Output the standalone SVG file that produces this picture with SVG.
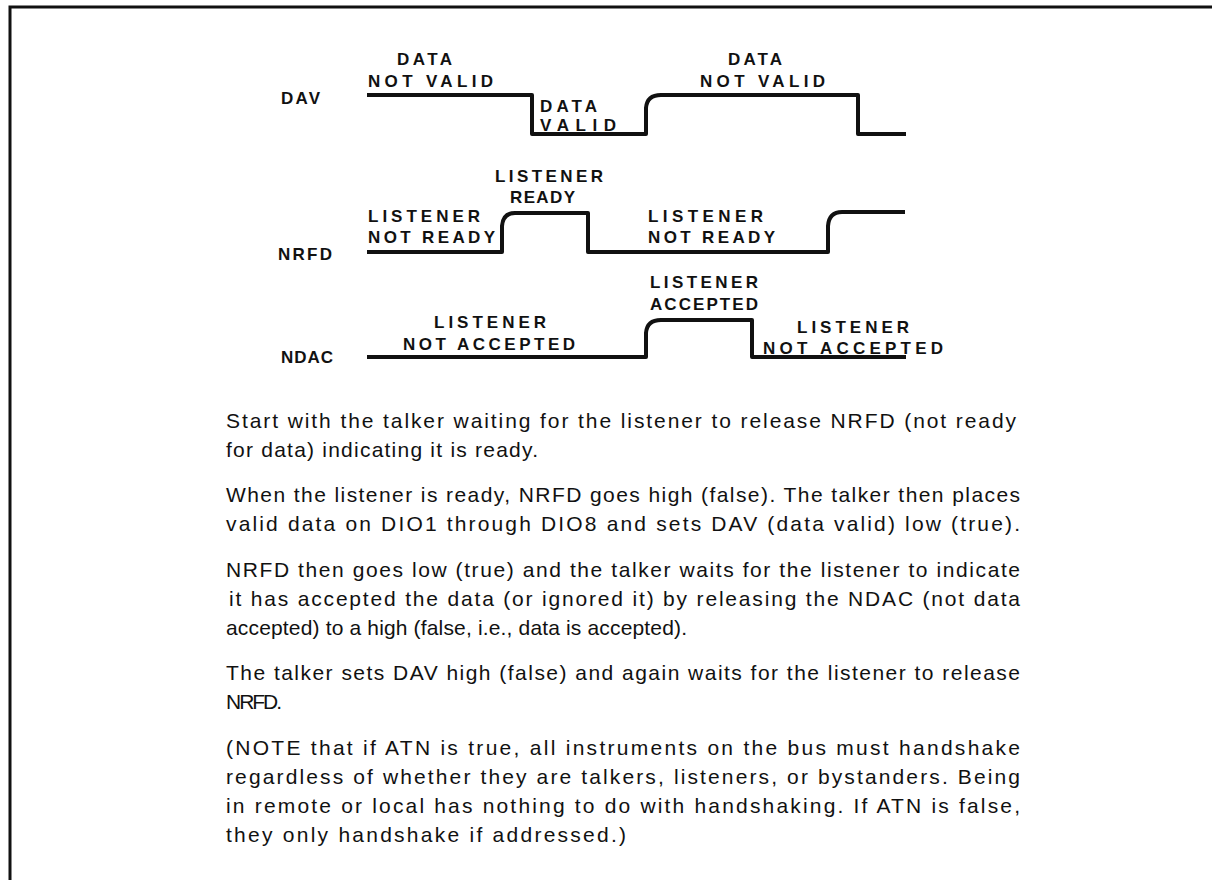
<svg xmlns="http://www.w3.org/2000/svg" width="1212" height="880" viewBox="0 0 1212 880">
<style>
.lbl{font-family:"Liberation Sans",Arial,sans-serif;font-weight:bold;font-size:17px;fill:#111}
.body{font-family:"Liberation Sans",Arial,sans-serif;font-size:21px;fill:#111}
.wave{fill:none;stroke:#111;stroke-width:4;stroke-linejoin:round;stroke-linecap:butt}
</style>
<rect width="1212" height="880" fill="#fff"/>
<g id="border">
<path d="M10,880 V7 H1212" fill="none" stroke="#111" stroke-width="3"/>
</g>
<g id="signal-labels">
<text class="lbl" x="281" y="104" textLength="39" lengthAdjust="spacing">DAV</text>
<text class="lbl" x="278" y="260" textLength="54" lengthAdjust="spacing">NRFD</text>
<text class="lbl" x="281" y="363" textLength="52" lengthAdjust="spacing">NDAC</text>
</g>
<g id="connectors">
<path class="wave" d="M367,95 H532 V134 H646 V108 Q647,95 661,95 H858 V134 H906"/>
<path class="wave" d="M367,252 H502 V226 Q503,213 515,213 H588 V252 H828 V226 Q829,212 842,212 H905"/>
<path class="wave" d="M367,357 H646 V333 Q647,320 661,320 H752 V357 H906"/>
</g>
<g id="dav-labels">
<text class="lbl" x="397" y="65" textLength="55" lengthAdjust="spacing">DATA</text>
<text class="lbl" x="368" y="87" textLength="125" lengthAdjust="spacing">NOT VALID</text>
<text class="lbl" x="540" y="112" textLength="57" lengthAdjust="spacing">DATA</text>
<text class="lbl" x="540" y="131" textLength="76" lengthAdjust="spacing">VALID</text>
<text class="lbl" x="728" y="65" textLength="54" lengthAdjust="spacing">DATA</text>
<text class="lbl" x="700" y="87" textLength="125" lengthAdjust="spacing">NOT VALID</text>
</g>
<g id="nrfd-labels">
<text class="lbl" x="495" y="182" textLength="108" lengthAdjust="spacing">LISTENER</text>
<text class="lbl" x="510" y="203" textLength="65" lengthAdjust="spacing">READY</text>
<text class="lbl" x="368" y="222" textLength="112" lengthAdjust="spacing">LISTENER</text>
<text class="lbl" x="368" y="243" textLength="127" lengthAdjust="spacing">NOT READY</text>
<text class="lbl" x="648" y="222" textLength="115" lengthAdjust="spacing">LISTENER</text>
<text class="lbl" x="648" y="243" textLength="127" lengthAdjust="spacing">NOT READY</text>
</g>
<g id="ndac-labels">
<text class="lbl" x="650" y="288" textLength="108" lengthAdjust="spacing">LISTENER</text>
<text class="lbl" x="650" y="310" textLength="108" lengthAdjust="spacing">ACCEPTED</text>
<text class="lbl" x="434" y="328" textLength="112" lengthAdjust="spacing">LISTENER</text>
<text class="lbl" x="403" y="350" textLength="172" lengthAdjust="spacing">NOT ACCEPTED</text>
<text class="lbl" x="797" y="333" textLength="112" lengthAdjust="spacing">LISTENER</text>
<text class="lbl" x="763" y="354" textLength="180" lengthAdjust="spacing">NOT ACCEPTED</text>
</g>
<g id="description">
<text class="body" x="226" y="428" textLength="790" lengthAdjust="spacing">Start with the talker waiting for the listener to release NRFD (not ready</text>
<text class="body" x="226" y="457" textLength="312" lengthAdjust="spacing">for data) indicating it is ready.</text>
<text class="body" x="226" y="502" textLength="794" lengthAdjust="spacing">When the listener is ready, NRFD goes high (false). The talker then places</text>
<text class="body" x="226" y="531" textLength="794" lengthAdjust="spacing">valid data on DIO1 through DIO8 and sets DAV (data valid) low (true).</text>
<text class="body" x="226" y="577" textLength="794" lengthAdjust="spacing">NRFD then goes low (true) and the talker waits for the listener to indicate</text>
<text class="body" x="229" y="606" textLength="791" lengthAdjust="spacing">it has accepted the data (or ignored it) by releasing the NDAC (not data</text>
<text class="body" x="226" y="635" textLength="461" lengthAdjust="spacing">accepted) to a high (false, i.e., data is accepted).</text>
<text class="body" x="226" y="680" textLength="794" lengthAdjust="spacing">The talker sets DAV high (false) and again waits for the listener to release</text>
<text class="body" x="226" y="709" textLength="56" lengthAdjust="spacing">NRFD.</text>
<text class="body" x="226" y="755" textLength="794" lengthAdjust="spacing">(NOTE that if ATN is true, all instruments on the bus must handshake</text>
<text class="body" x="226" y="784" textLength="794" lengthAdjust="spacing">regardless of whether they are talkers, listeners, or bystanders. Being</text>
<text class="body" x="226" y="813" textLength="794" lengthAdjust="spacing">in remote or local has nothing to do with handshaking. If ATN is false,</text>
<text class="body" x="226" y="842" textLength="400" lengthAdjust="spacing">they only handshake if addressed.)</text>
</g>
</svg>
